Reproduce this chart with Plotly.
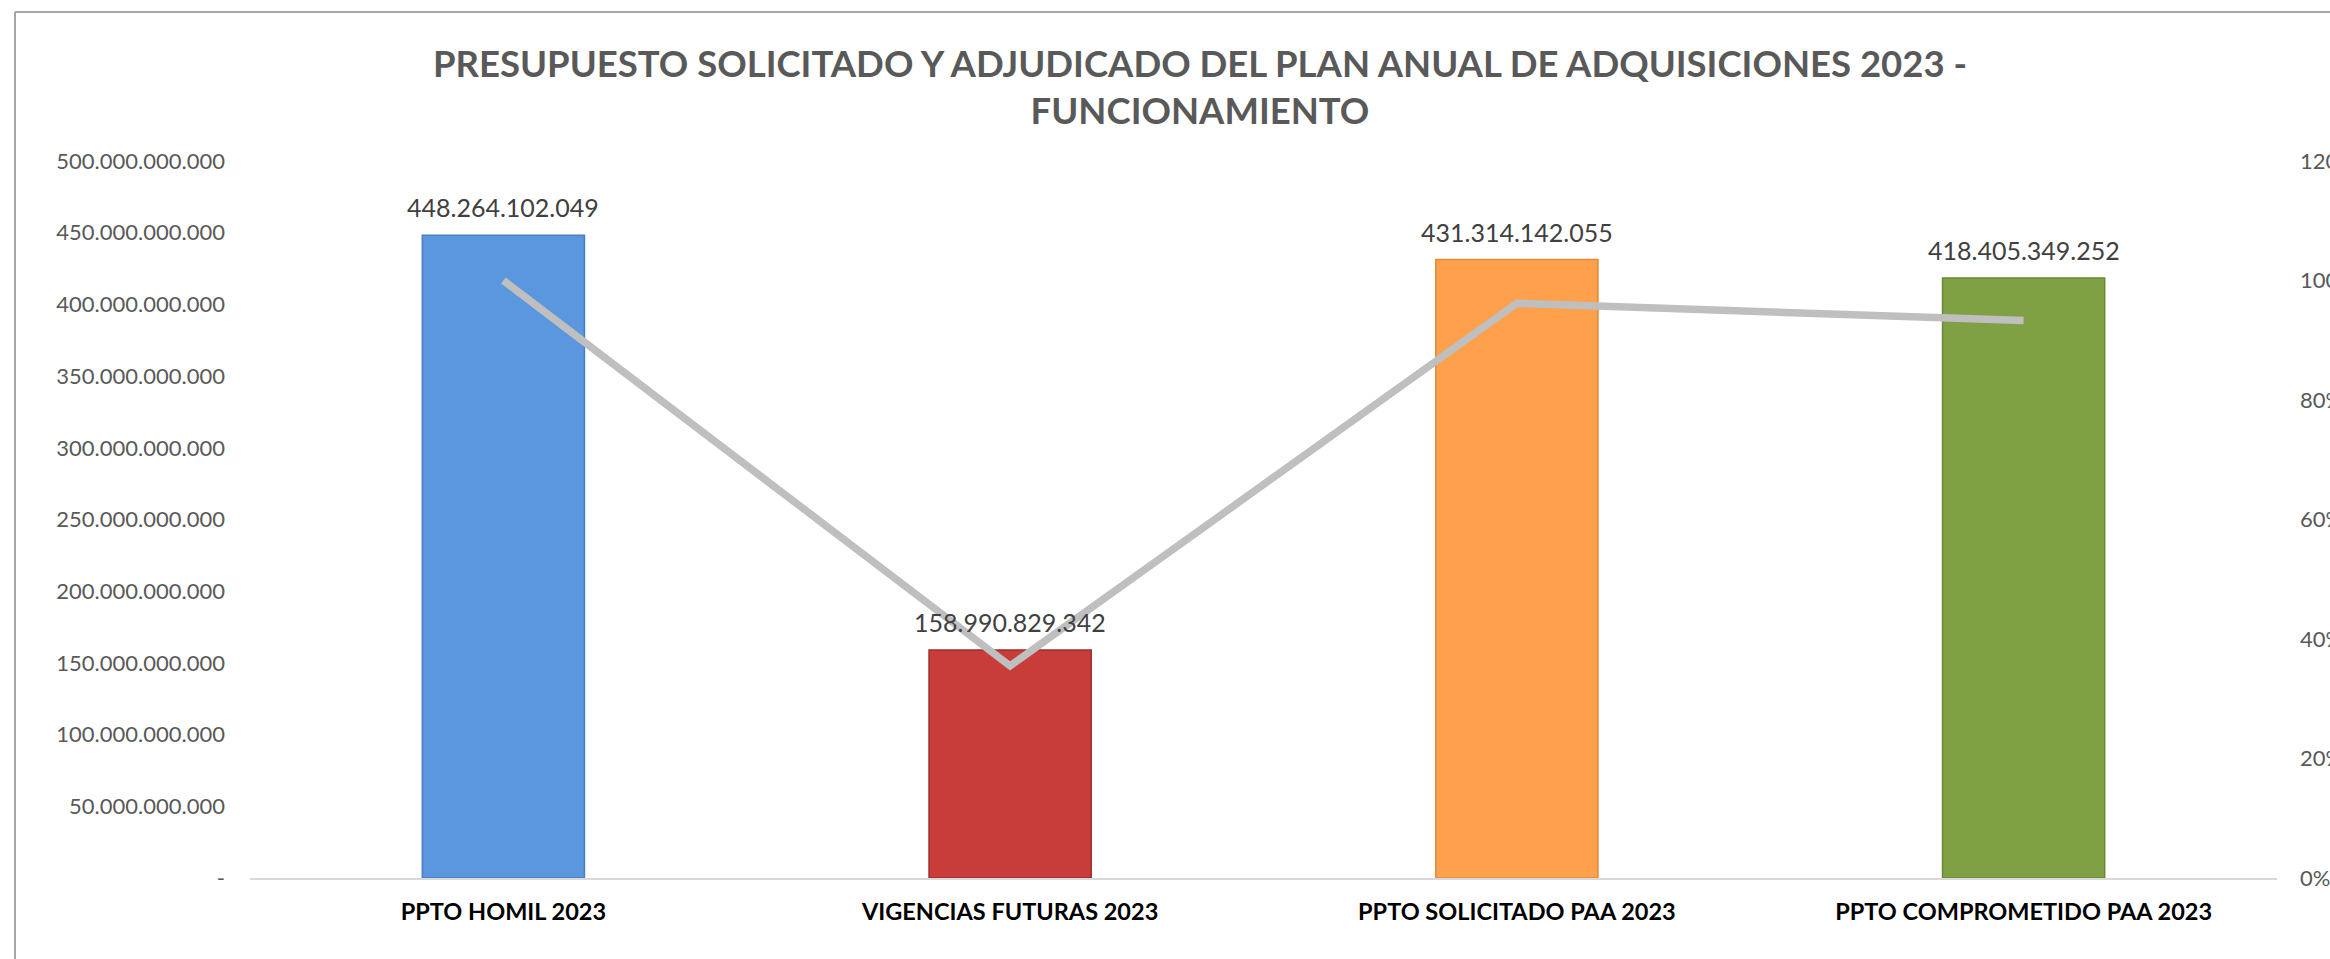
import plotly.graph_objects as go

categories = ["PPTO HOMIL 2023", "VIGENCIAS FUTURAS 2023",
              "PPTO SOLICITADO PAA 2023", "PPTO COMPROMETIDO PAA 2023"]
budget_values = [448264102049, 158990829342, 431314142055, 418405349252]
pct_values = [1.0, 0.355, 0.962, 0.933]
bar_colors = ["#5b97de", "#c83d3a", "#ffa04c", "#80a044"]
bar_edges = ["#4a7fc0", "#9c2e2c", "#e08a3c", "#6a8836"]
left_tickvals = [0, 50e9, 100e9, 150e9, 200e9, 250e9, 300e9, 350e9, 400e9, 450e9, 500e9]
left_ticktext = ["-", "50.000.000.000", "100.000.000.000", "150.000.000.000",
                 "200.000.000.000", "250.000.000.000", "300.000.000.000",
                 "350.000.000.000", "400.000.000.000", "450.000.000.000",
                 "500.000.000.000"]
title_text = ("PRESUPUESTO SOLICITADO Y ADJUDICADO DEL PLAN ANUAL DE ADQUISICIONES 2023 -"
              "<br>FUNCIONAMIENTO")

FONT = "Lato"
W, H = 2330, 959
L, R, T, B = 250, 53, 161, 81


def fmt_thousands(v):
    return f"{v:,}".replace(",", ".")


fig = go.Figure()
fig.add_trace(go.Bar(
    x=categories, y=budget_values,
    marker=dict(color=bar_colors, line=dict(color=bar_edges, width=1.5)),
    yaxis="y", showlegend=False, hoverinfo="x+y",
))
fig.add_trace(go.Scatter(
    x=categories, y=pct_values, mode="lines",
    line=dict(color="#bfbfbf", width=7.5),
    yaxis="y2", showlegend=False,
))

annotations = [
    dict(x=c, y=v, xref="x", yref="y", text=fmt_thousands(v), showarrow=False,
         yanchor="middle", yshift=28,
         font=dict(family=FONT, size=25, color="#404040"))
    for c, v in zip(categories, budget_values)
]

fig.update_layout(
    width=W, height=H,
    margin=dict(l=L, r=R, t=T, b=B, pad=0, autoexpand=False),
    paper_bgcolor="white", plot_bgcolor="white",
    separators=",.",
    bargap=0.68,
    font=dict(family=FONT, color="#595959"),
    title=dict(text=title_text, x=1200 / W, xref="container", xanchor="center",
               y=1 - 77 / H, yref="container", yanchor="middle",
               font=dict(family=FONT, size=36.5, color="#595959", weight="bold")),
    xaxis=dict(showgrid=False, showline=True, linecolor="#d9d9d9", linewidth=2,
               ticks="", ticklabelstandoff=12, automargin=False,
               tickfont=dict(family=FONT, size=23.5, color="#000000", weight="bold")),
    yaxis=dict(range=[0, 500e9], tickvals=left_tickvals, ticktext=left_ticktext,
               showgrid=False, zeroline=False, showline=False, ticks="",
               ticklabelstandoff=24, automargin=False,
               tickfont=dict(family=FONT, size=22, color="#595959")),
    yaxis2=dict(range=[0, 1.2], overlaying="y", side="right", tickformat=".0%",
                dtick=0.2, showgrid=False, zeroline=False, showline=False, ticks="",
                ticklabelstandoff=22, automargin=False,
                tickfont=dict(family=FONT, size=22, color="#595959")),
    annotations=annotations,
    shapes=[
        dict(type="line", xref="paper", yref="paper",
             x0=(15 - L) / (W - L - R), x1=(15 - L) / (W - L - R),
             y0=(H - B - 12) / (H - T - B), y1=(H - B - 975) / (H - T - B),
             line=dict(color="#a6a6a6", width=2)),
        dict(type="line", xref="paper", yref="paper",
             x0=(15 - L) / (W - L - R), x1=(2400 - L) / (W - L - R),
             y0=(H - B - 12) / (H - T - B), y1=(H - B - 12) / (H - T - B),
             line=dict(color="#a6a6a6", width=2)),
    ],
)

fig.write_html("out.html", config={"displayModeBar": False},
               post_script="document.body.style.margin='0';")
